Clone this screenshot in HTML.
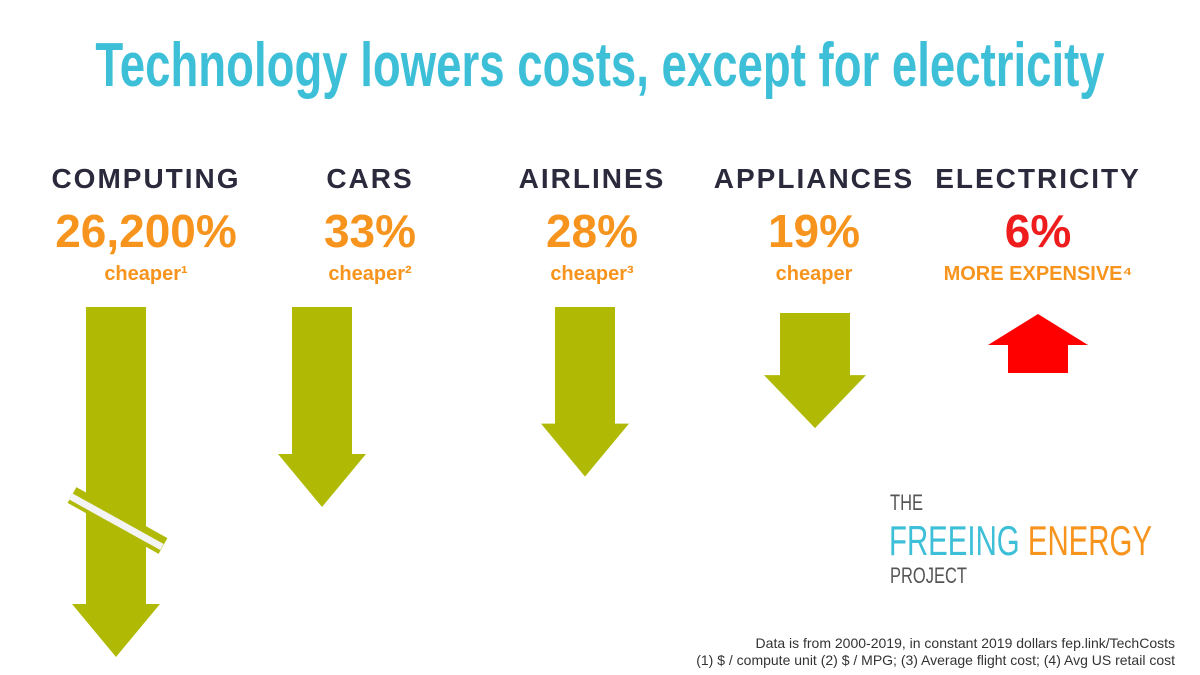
<!DOCTYPE html>
<html><head><meta charset="utf-8"><style>
html,body{margin:0;padding:0;background:#fff;}
svg{display:block;font-family:"Liberation Sans",sans-serif;}
</style></head><body>
<svg id="chart" width="1200" height="675" viewBox="0 0 1200 675">
<text x="600" y="86" text-anchor="middle" font-size="62" font-weight="bold" fill="#3dbfd8" transform="translate(600,0) scale(0.735,1) translate(-600,0)">Technology lowers costs, except for electricity</text>
<g id="marks"></g>
<g>
<text x="890" y="510" font-size="22" fill="#555" transform="translate(890,0) scale(0.75,1) translate(-890,0)">THE</text>
<text x="889" y="555" font-size="42" fill="#3dbfd8" transform="translate(889,0) scale(0.70,1) translate(-889,0)">FREEING <tspan fill="#f7941d">ENERGY</tspan></text>
<text x="890" y="583" font-size="22" fill="#555" transform="translate(890,0) scale(0.75,1) translate(-890,0)">PROJECT</text>
</g>
<text x="1175" y="648" text-anchor="end" font-size="14" fill="#333">Data is from 2000-2019, in constant 2019 dollars fep.link/TechCosts</text>
<text x="1175" y="665" text-anchor="end" font-size="14" fill="#333">(1) $ / compute unit (2) $ / MPG; (3) Average flight cost; (4) Avg US retail cost</text>
</svg>
<script>
const categories = ["COMPUTING","CARS","AIRLINES","APPLIANCES","ELECTRICITY"];
const valueLabels = ["26,200%","33%","28%","19%","6%"];
const changeLabels = ["cheaper¹","cheaper²","cheaper³","cheaper","MORE EXPENSIVE⁴"];
const values = [-26200,-33,-28,-19,6];
const NS="http://www.w3.org/2000/svg";
const g=document.getElementById('marks');
const labelCenters=[146,370,592,814,1038];
const arrowCenters=[116,322,585,815,1038];
const scale=6.06, maxLen=350, minLen=59;
function mk(tag,attrs){const e=document.createElementNS(NS,tag);for(const k in attrs)e.setAttribute(k,attrs[k]);g.appendChild(e);return e;}
categories.forEach((c,i)=>{
  const lx=labelCenters[i], cx=arrowCenters[i];
  const t1=mk('text',{x:lx,y:188,'text-anchor':'middle','font-size':28,'font-weight':'bold',fill:'#2b2a3d','letter-spacing':'2'});
  t1.textContent=c;
  
  
  const up=values[i]>0;
  const t2=mk('text',{x:lx,y:247,'text-anchor':'middle','font-size':46,'font-weight':'bold',fill:up?'#ee1c1c':'#f7941d'});
  t2.textContent=valueLabels[i];
  
  
  const t3=mk('text',{x:lx,y:280,'text-anchor':'middle','font-size':20,'font-weight':'bold',fill:'#f7941d'});
  t3.textContent=changeLabels[i];
  
  
  let len=Math.min(Math.abs(values[i])*scale,maxLen);
  len=Math.max(len,minLen);
  let d;
  if(!up){
    const top=i===3?313:307, sw=i===3?35:30, hw=i===3?51:44, hh=53;
    const tip=top+len, sb=tip-hh;
    d=`M${cx-sw},${top}H${cx+sw}V${sb}H${cx+hw}L${cx},${tip}L${cx-hw},${sb}H${cx-sw}Z`;
  } else {
    const bottom=373, tip=bottom-len, sb=tip+31;
    d=`M${cx-30},${bottom}H${cx+30}V${sb}H${cx+50}L${cx},${tip}L${cx-50},${sb}H${cx-30}Z`;
  }
  const p=mk('path',{d:d,fill:up?'#ff0000':'#b0ba05'});
  
  
  if(Math.abs(values[i])*scale>maxLen){
    const b1=mk('line',{x1:cx-44,y1:495,x2:cx+47,y2:546,stroke:'#b0ba05','stroke-width':18});
    
    
    const b2=mk('line',{x1:cx-46,y1:496,x2:cx+46,y2:547,stroke:'#f4f4f4','stroke-width':7});
    
    
  }
});
</script>
</body></html>
